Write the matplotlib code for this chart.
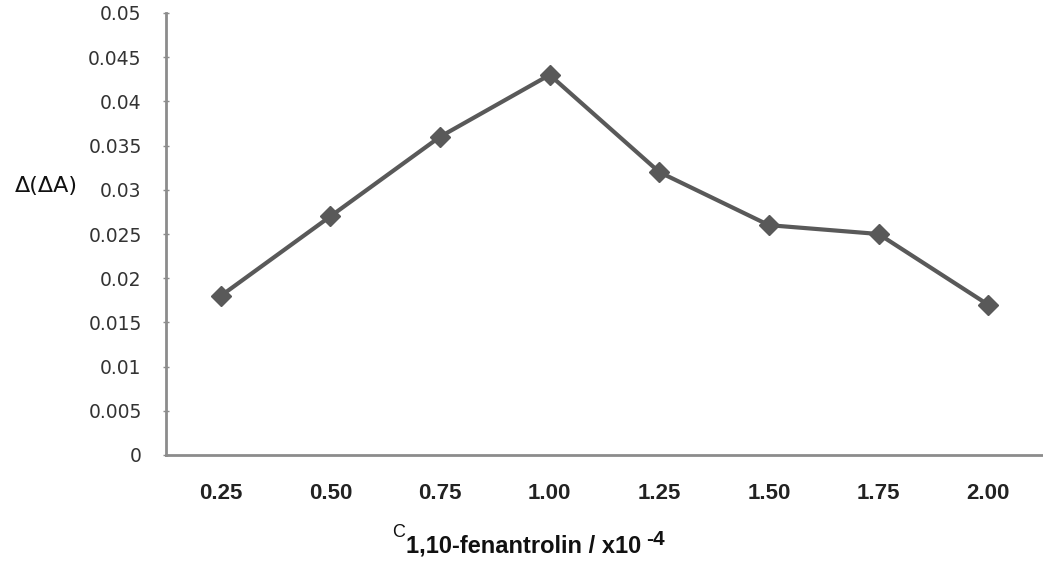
import matplotlib
matplotlib.use('Agg')
import matplotlib.pyplot as plt
import numpy as np

# concentration of 1,10-fenantrolin (x10^-4) and measured Δ(ΔA)
conc_labels = ['0.25', '0.50', '0.75', '1.00', '1.25', '1.50', '1.75', '2.00']
delta_dA = [0.018, 0.027, 0.036, 0.043, 0.032, 0.026, 0.025, 0.017]
y_ticks = [0, 0.005, 0.01, 0.015, 0.02, 0.025, 0.03, 0.035, 0.04, 0.045, 0.05]
y_tick_labels = ['0', '0.005', '0.01', '0.015', '0.02', '0.025', '0.03',
                 '0.035', '0.04', '0.045', '0.05']

line_color = '#595959'
axis_color = '#8c8c8c'

fig = plt.figure(figsize=(10.43, 5.64), dpi=100)
ax = fig.add_axes([166 / 1043, 1 - 455 / 564, 1 - 166 / 1043, (455 - 13) / 564])

x = np.arange(len(conc_labels))
ax.plot(x, delta_dA, color=line_color, linewidth=3, marker='D',
        markersize=10, markerfacecolor=line_color, markeredgecolor=line_color,
        clip_on=False)

ax.set_xlim(-0.5, len(conc_labels) - 0.5)
ax.set_ylim(0, 0.05)

ax.set_yticks(y_ticks)
ax.set_yticklabels(y_tick_labels, fontsize=13.5, color='#333333',
                   family='DejaVu Sans')
ax.tick_params(axis='y', direction='inout', length=5, width=1,
               color=axis_color, pad=15)

ax.set_xticks(x)
ax.set_xticklabels(conc_labels, fontsize=16, fontweight='bold',
                   family='Liberation Sans', color='#222222')
ax.tick_params(axis='x', length=0, pad=20)

for side in ['top', 'right']:
    ax.spines[side].set_visible(False)
for side in ['left', 'bottom']:
    ax.spines[side].set_color(axis_color)
    ax.spines[side].set_linewidth(2)

# y label, horizontal at the left
fig.text(46 / 1043, 1 - 186 / 564, 'Δ(ΔA)', fontsize=16, ha='center',
         va='center', family='DejaVu Sans', color='#111111')

# x label: C with bold subscript and superscript
t1 = fig.text(392 / 1043, 1 - 537 / 564, 'C', fontsize=13,
              family='Liberation Sans', color='#111111', va='baseline')
t2 = ax.annotate('1,10-fenantrolin / x10', xy=(1, 0), xycoords=t1,
                 xytext=(0.5, -8), textcoords='offset points',
                 fontsize=17, fontweight='bold', family='Liberation Sans',
                 color='#111111', va='baseline', ha='left',
                 annotation_clip=False)
ax.annotate('-4', xy=(1, 1), xycoords=t2, xytext=(4, 3),
            textcoords='offset points', fontsize=15, fontweight='bold',
            family='Liberation Sans', color='#111111', va='top', ha='left',
            annotation_clip=False)

fig.savefig('out.png', dpi=100)
